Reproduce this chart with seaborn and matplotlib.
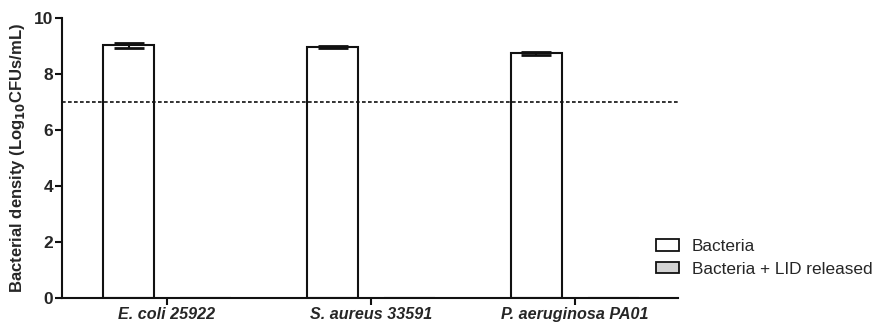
import matplotlib
matplotlib.use("Agg")
import matplotlib.pyplot as plt
import seaborn as sns
import pandas as pd
import numpy as np

strains = ["E. coli 25922", "S. aureus 33591", "P. aeruginosa PA01"]
groups = ["Bacteria", "Bacteria + LID released"]
bacteria_mean = [9.02, 8.96, 8.74]
bacteria_sd = [0.08, 0.04, 0.05]
lid_mean = [0.0, 0.0, 0.0]
threshold = 7
yticks = [0, 2, 4, 6, 8, 10]

sns.set_style("ticks")
plt.rcParams["font.family"] = ["Liberation Sans", "DejaVu Sans"]

df = pd.DataFrame({
    "strain": strains * 2,
    "group": [groups[0]] * 3 + [groups[1]] * 3,
    "value": bacteria_mean + lid_mean,
})

fig = plt.figure(figsize=(8.75, 3.24), dpi=100)
ax = fig.add_axes([62 / 875, 1 - 298 / 324, (678 - 62) / 875, (298 - 18) / 324])

sns.barplot(data=df, x="strain", y="value", hue="group", hue_order=groups,
            palette=["white", "#d3d3d3"], edgecolor="#111111", linewidth=1.5,
            width=0.755, gap=0.337, errorbar=None, ax=ax, zorder=2)

xs = [p.get_x() + p.get_width() / 2 for p in ax.containers[0]]
ax.errorbar(xs, bacteria_mean, yerr=bacteria_sd, fmt="none", ecolor="#111111",
            elinewidth=1.5, capsize=11, capthick=2, zorder=3)

ax.axhline(threshold, color="#111111", lw=1.2, ls=(0, (2.2, 1.4)), zorder=4)

ax.set_ylim(0, 10)
ax.set_xlim(-0.515, 2.505)
ax.set_yticks(yticks)
ax.set_yticklabels([str(t) for t in yticks], fontsize=12.5, fontweight="bold")
ax.set_xticks(range(len(strains)))
ax.set_xticklabels(strains, fontsize=11.6, fontweight="bold", style="italic")
ax.set_xlabel("")
ax.set_ylabel("Bacterial density (Log$_{\\mathbf{10}}$CFUs/mL)", fontsize=12,
              fontweight="bold", labelpad=5)
for s in ["top", "right"]:
    ax.spines[s].set_visible(False)
for s in ["left", "bottom"]:
    ax.spines[s].set_linewidth(1.5)
    ax.spines[s].set_color("#111111")
ax.tick_params(axis="both", width=1.5, length=5, color="#111111", pad=1.5)

handles, labels = ax.get_legend_handles_labels()
if ax.get_legend() is not None:
    ax.get_legend().remove()
leg = fig.legend(handles, labels, loc="upper left", bbox_to_anchor=(656 / 875, 1 - 239 / 324),
                 frameon=False, fontsize=12.4, handlelength=1.35, handleheight=0.62,
                 handletextpad=0.72, labelspacing=0.44, borderpad=0, borderaxespad=0)
for h in leg.legend_handles:
    h.set_edgecolor("#111111")
    h.set_linewidth(1.3)

fig.savefig("out.png", dpi=100)
